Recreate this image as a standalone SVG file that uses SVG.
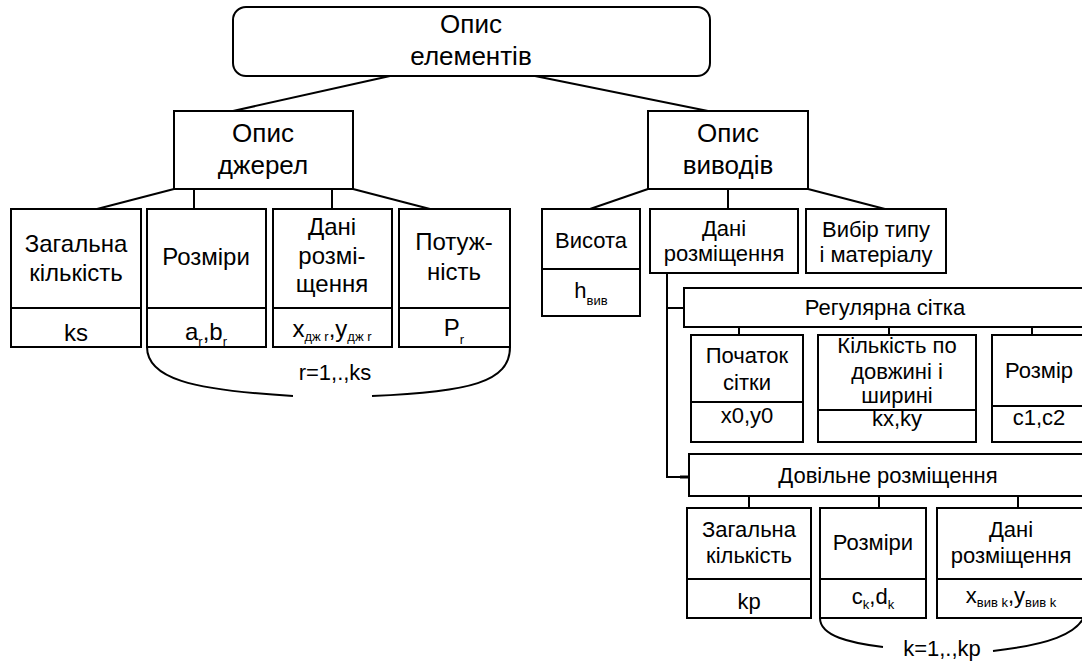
<svg xmlns="http://www.w3.org/2000/svg" width="1082" height="663" viewBox="0 0 1082 663">
<style>
rect{fill:#fff;stroke:#000;stroke-width:2}
rect.bg{stroke:none}
line,path{stroke:#000;stroke-width:2;fill:none}
text{font-family:"Liberation Sans",Arial,sans-serif;fill:#000;text-anchor:middle}
.h{font-size:26px}
.l{font-size:24px}
.s{font-size:22px}
.sub{font-size:13px}
</style>
<rect class="bg" width="1082" height="663"/>
<g id="connectors">
<line x1="390" y1="76" x2="233" y2="111"/>
<line x1="535" y1="76" x2="708" y2="111"/>
<line x1="174" y1="189" x2="97" y2="209"/>
<line x1="194" y1="189" x2="194" y2="209"/>
<line x1="332" y1="189" x2="332" y2="209"/>
<line x1="353" y1="189" x2="430" y2="209"/>
<line x1="648" y1="189" x2="590" y2="209"/>
<line x1="728" y1="189" x2="728" y2="209"/>
<line x1="808" y1="189" x2="885" y2="209"/>
<polyline points="667,273 667,477 689,477" fill="none" stroke="#000" stroke-width="2"/>
<line x1="680" y1="477" x2="689" y2="477" style="stroke-width:3"/>
<line x1="667" y1="308" x2="684" y2="308"/>
<line x1="739" y1="327" x2="739" y2="335"/>
<line x1="889" y1="327" x2="889" y2="335"/>
<line x1="1032" y1="327" x2="1032" y2="335"/>
<line x1="749" y1="496" x2="749" y2="508"/>
<line x1="879" y1="496" x2="879" y2="508"/>
<line x1="1018" y1="496" x2="1018" y2="508"/>
<path d="M147,347 C147,378 190,390 293,396"/>
<path d="M372,396 C470,392 510,382 510,347"/>
<path d="M820,618 C820,636 850,643 883,647"/>
<path d="M993,651 C1045,645 1080,635 1086,612"/>
</g>
<g id="n-root"><rect x="233" y="7" width="477" height="69" rx="13"/><text class="h" x="471" y="33">Опис</text><text class="h" x="471" y="65">елементів</text></g>
<g id="n-sources"><rect x="174" y="111" width="179" height="78"/><text class="h" x="263" y="142">Опис</text><text class="h" x="263" y="174">джерел</text></g>
<g id="n-leads"><rect x="648" y="111" width="160" height="78"/><text class="h" x="728" y="142">Опис</text><text class="h" x="728" y="174">виводів</text></g>
<g id="n-total"><rect x="11" y="209" width="130" height="138"/><line x1="11" y1="308" x2="141" y2="308"/><text class="l" x="76" y="252">Загальна</text><text class="l" x="76" y="281">кількість</text><text class="l" x="76" y="341">ks</text></g>
<g id="n-sizes"><rect x="147" y="209" width="119" height="138"/><line x1="147" y1="308" x2="266" y2="308"/><text class="l" x="206" y="265">Розміри</text><text class="l" x="206" y="340">a<tspan class="sub" dy="6">r</tspan><tspan dy="-6">,b</tspan><tspan class="sub" dy="6">r</tspan></text></g>
<g id="n-place"><rect x="273" y="209" width="119" height="138"/><line x1="273" y1="308" x2="392" y2="308"/><text class="l" x="332" y="235">Дані</text><text class="l" x="332" y="264">розмі-</text><text class="l" x="332" y="292">щення</text><text class="l" x="332" y="337">x<tspan class="sub" dy="4">дж r</tspan><tspan dy="-4">,y</tspan><tspan class="sub" dy="4">дж r</tspan></text></g>
<g id="n-power"><rect x="399" y="209" width="111" height="138"/><line x1="399" y1="308" x2="510" y2="308"/><text class="l" x="454" y="250">Потуж-</text><text class="l" x="454" y="280">ність</text><text class="l" x="454" y="336">P<tspan class="sub" dy="8">r</tspan></text></g>
<g id="n-height"><rect x="542" y="209" width="98" height="107"/><line x1="542" y1="269" x2="640" y2="269"/><text class="s" x="591" y="248">Висота</text><text class="s" x="591" y="298">h<tspan class="sub" dy="7">вив</tspan></text></g>
<g id="n-leadplace"><rect x="650" y="209" width="148" height="64"/><text class="s" x="724" y="236">Дані</text><text class="s" x="724" y="261">розміщення</text></g>
<g id="n-type"><rect x="806" y="209" width="140" height="64"/><text class="s" x="876" y="237">Вибір типу</text><text class="s" x="876" y="262">і матеріалу</text></g>
<g id="n-grid"><rect x="684" y="288" width="402" height="39"/><text class="s" x="885" y="315">Регулярна сітка</text></g>
<g id="n-gridstart"><rect x="691" y="335" width="112" height="107"/><line x1="691" y1="402" x2="803" y2="402"/><text class="s" x="747" y="363">Початок</text><text class="s" x="747" y="390">сітки</text><text class="s" x="747" y="423">x0,y0</text></g>
<g id="n-gridcount"><rect x="818" y="335" width="158" height="107"/><line x1="818" y1="410" x2="976" y2="410"/><text class="s" x="897" y="353">Кількість по</text><text class="s" x="897" y="379">довжині і</text><text class="s" x="897" y="403">ширині</text><text class="s" x="897" y="426">kx,ky</text></g>
<g id="n-gridsize"><rect x="992" y="335" width="94" height="107"/><line x1="992" y1="406" x2="1086" y2="406"/><text class="s" x="1039" y="378">Розмір</text><text class="s" x="1039" y="425">c1,c2</text></g>
<g id="n-free"><rect x="689" y="454" width="397" height="42"/><text class="s" x="888" y="483">Довільне розміщення</text></g>
<g id="n-freetotal"><rect x="687" y="508" width="124" height="110"/><line x1="687" y1="579" x2="811" y2="579"/><text class="s" x="749" y="537">Загальна</text><text class="s" x="749" y="563">кількість</text><text class="s" x="749" y="609">kp</text></g>
<g id="n-freesizes"><rect x="820" y="508" width="106" height="110"/><line x1="820" y1="579" x2="926" y2="579"/><text class="s" x="873" y="550">Розміри</text><text class="s" x="873" y="604">c<tspan class="sub" dy="5">k</tspan><tspan dy="-5">,d</tspan><tspan class="sub" dy="5">k</tspan></text></g>
<g id="n-freeplace"><rect x="937" y="508" width="149" height="110"/><line x1="937" y1="579" x2="1086" y2="579"/><text class="s" x="1011" y="537">Дані</text><text class="s" x="1011" y="563">розміщення</text><text class="s" x="1011" y="603">x<tspan class="sub" dy="4">вив k</tspan><tspan dy="-4">,y</tspan><tspan class="sub" dy="4">вив k</tspan></text></g>
<text class="s" x="335" y="380">r=1,.,ks</text>
<text class="s" x="942" y="656">k=1,.,kp</text>
</svg>
